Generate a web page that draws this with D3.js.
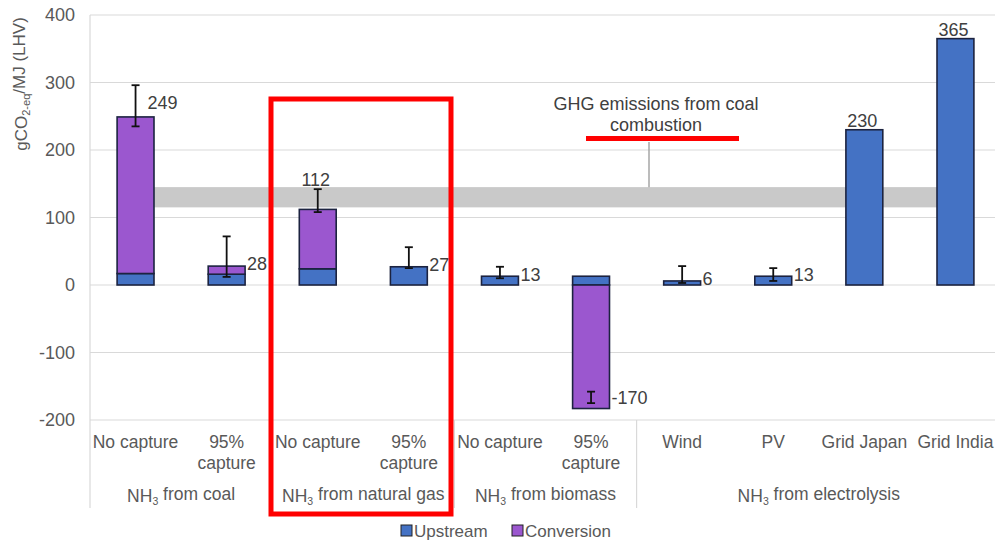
<!DOCTYPE html>
<html><head><meta charset="utf-8">
<script src="https://cdn.jsdelivr.net/npm/d3@7"></script>
<style>body{margin:0;background:#fff}svg{display:block;font-family:"Liberation Sans",Arial,sans-serif}</style>
</head><body><svg id="c" width="995" height="540"></svg>
<script>
const categories = ["No capture","95%\ncapture","No capture","95%\ncapture","No capture","95%\ncapture","Wind","PV","Grid Japan","Grid India"];
const groupNames = ["NH3 from coal","NH3 from natural gas","NH3 from biomass","NH3 from electrolysis"];
const groupSizes = [2,2,2,4];
const upstream   = [17, 16, 24, 27, 13, 13, 6, 13, 230, 365];
const conversion = [232, 12, 88, 0, 0, -183, 0, 0, 0, 0];
const totals     = [249, 28, 112, 27, 13, -170, 6, 13, 230, 365];
const errLow     = [235, 12, 108, 25, 10, -175, 3, 6, null, null];
const errHigh    = [296, 72, 142, 56, 27, -158, 28, 25, null, null];
const coalBand   = [115, 145];
const yTicks     = [-200,-100,0,100,200,300,400];
const seriesNames = ["Upstream","Conversion"];
const annotationLines = ["GHG emissions from coal","combustion"];

(function(){
const colors = {Upstream:"#4472c4", Conversion:"#9b57cf"};
const svg = d3.select("#c");
const pL = 90, pR = 1001, pT = 15, pB = 420;
const x = d3.scaleBand().domain(d3.range(categories.length)).range([pL,pR]).paddingInner(0.595).paddingOuter(0.2975);
const y = d3.scaleLinear().domain([-200,400]).range([pB,pT]);
const bw = x.bandwidth();
const cx = i => x(i) + bw/2;
const step = x.step();

// grid
svg.append("g").selectAll("line").data(yTicks).join("line")
  .attr("x1",pL).attr("x2",995).attr("y1",d=>y(d)).attr("y2",d=>y(d))
  .attr("stroke","#d9d9d9").attr("stroke-width",1.2);
// y axis labels
const yAxis = d3.axisLeft(y).tickValues(yTicks).tickSize(0).tickPadding(15).tickFormat(d=>String(d));
const ya = svg.append("g").attr("transform",`translate(${pL},0)`).call(yAxis);
ya.select(".domain").remove();
ya.selectAll("text").attr("font-size",18).attr("fill","#595959").attr("font-family","Liberation Sans, Arial, sans-serif");

// left border + group separators
const bounds = [0]; groupSizes.reduce((a,s)=>{bounds.push(a+s);return a+s;},0);
svg.append("line").attr("x1",pL).attr("x2",pL).attr("y1",pT).attr("y2",508).attr("stroke","#d9d9d9").attr("stroke-width",1.2);
svg.append("g").selectAll("line").data(bounds.slice(1,-1)).join("line")
  .attr("x1",d=>pL+d*step).attr("x2",d=>pL+d*step).attr("y1",pB).attr("y2",508)
  .attr("stroke","#d9d9d9").attr("stroke-width",1.2);

// coal band
svg.append("rect").attr("x",cx(0)).attr("width",cx(categories.length-1)-cx(0))
  .attr("y",y(coalBand[1])).attr("height",y(coalBand[0])-y(coalBand[1])).attr("fill","#c9c9c9");

// annotation
const annX = 649;
svg.append("line").attr("x1",annX).attr("x2",annX).attr("y1",142).attr("y2",y(coalBand[1])).attr("stroke","#a6a6a6").attr("stroke-width",1.5);
svg.append("g").selectAll("text").data(annotationLines).join("text")
  .attr("x",656).attr("y",(d,i)=>104+i*21).attr("dy","0.35em").attr("text-anchor","middle")
  .attr("font-size",18).attr("fill","#404040").text(d=>d);

// stacked bars
const rows = categories.map((c,i)=>({i, Upstream:upstream[i], Conversion:conversion[i]}));
const stack = d3.stack().keys(seriesNames).offset(d3.stackOffsetDiverging)(rows);
svg.append("g").selectAll("g").data(stack).join("g").attr("fill",s=>colors[s.key])
  .selectAll("rect").data(s=>s.filter(d=>d[1]!==d[0])).join("rect")
  .attr("x",d=>x(d.data.i)).attr("width",bw)
  .attr("y",d=>y(Math.max(d[0],d[1]))).attr("height",d=>Math.abs(y(d[0])-y(d[1])))
  .attr("stroke","#1c2340").attr("stroke-width",1.6);

// error bars
const eb = svg.append("g").attr("stroke","#111").attr("stroke-width",1.8);
categories.forEach((c,i)=>{
  if(errLow[i]==null) return;
  eb.append("line").attr("x1",cx(i)).attr("x2",cx(i)).attr("y1",y(errLow[i])).attr("y2",y(errHigh[i]));
  [errLow[i],errHigh[i]].forEach(v=>eb.append("line").attr("x1",cx(i)-4).attr("x2",cx(i)+4).attr("y1",y(v)).attr("y2",y(v)));
});

// data labels
const labelMode = i => i===0 ? "topright" : (i===2||i===8||i===9) ? "above" : "right";
svg.append("g").selectAll("text").data(totals).join("text")
  .attr("font-size",18).attr("fill","#404040").attr("dy","0.35em")
  .each(function(v,i){
    const m = labelMode(i), t = d3.select(this);
    const topV = Math.max(v, errHigh[i]==null ? v : errHigh[i]);
    if(m==="above") t.attr("x",cx(i)-2).attr("y",y(topV)-9).attr("text-anchor","middle");
    else if(m==="topright") t.attr("x",cx(i)+12).attr("y",y(topV)+17).attr("text-anchor","start");
    else t.attr("x",x(i)+bw+2).attr("y",y(v)-2).attr("text-anchor","start");
  }).text(v=>v);

// category labels
const cl = svg.append("g").attr("font-size",17.5).attr("fill","#595959").attr("text-anchor","middle");
categories.forEach((c,i)=>{
  c.split("\n").forEach((line,j)=>{
    cl.append("text").attr("x",cx(i)).attr("y",442+j*21).attr("dy","0.35em").text(line);
  });
});
// group labels
function subText(sel, str){
  const m = str.match(/^NH3(.*)$/);
  sel.append("tspan").text("NH");
  sel.append("tspan").attr("font-size","0.6em").attr("dy","0.3em").text("3");
  sel.append("tspan").attr("dy","-0.3em").text(m[1]);
}
groupNames.forEach((g,k)=>{
  const mid = pL + (bounds[k]+bounds[k+1])/2*step;
  const t = cl.append("text").attr("x",mid).attr("y",496).attr("dy","0.35em");
  subText(t,g);
});

// y title
const yt = svg.append("text").attr("transform","translate(27,84) rotate(-90)").attr("text-anchor","middle")
  .attr("font-size",17).attr("fill","#595959");
yt.append("tspan").text("gCO");
yt.append("tspan").attr("font-size","0.65em").attr("dy","0.3em").text("2-eq");
yt.append("tspan").attr("dy","-0.3em").text("/MJ (LHV)");

// legend
const lg = svg.append("g");
const legX = [401, 512];
seriesNames.forEach((s,k)=>{
  lg.append("rect").attr("x",legX[k]).attr("y",525).attr("width",11).attr("height",11).attr("fill",colors[s]).attr("stroke","#222").attr("stroke-width",1);
  lg.append("text").attr("x",legX[k]+13).attr("y",531).attr("dy","0.35em").attr("font-size",17).attr("fill","#595959").text(s);
});

// red highlight annotations
svg.append("rect").attr("x",271).attr("y",99).attr("width",180).attr("height",415).attr("fill","none").attr("stroke","#ff0000").attr("stroke-width",5);
svg.append("line").attr("x1",586).attr("x2",739).attr("y1",138.5).attr("y2",138.5).attr("stroke","#ff0000").attr("stroke-width",5);
})();
</script></body></html>
